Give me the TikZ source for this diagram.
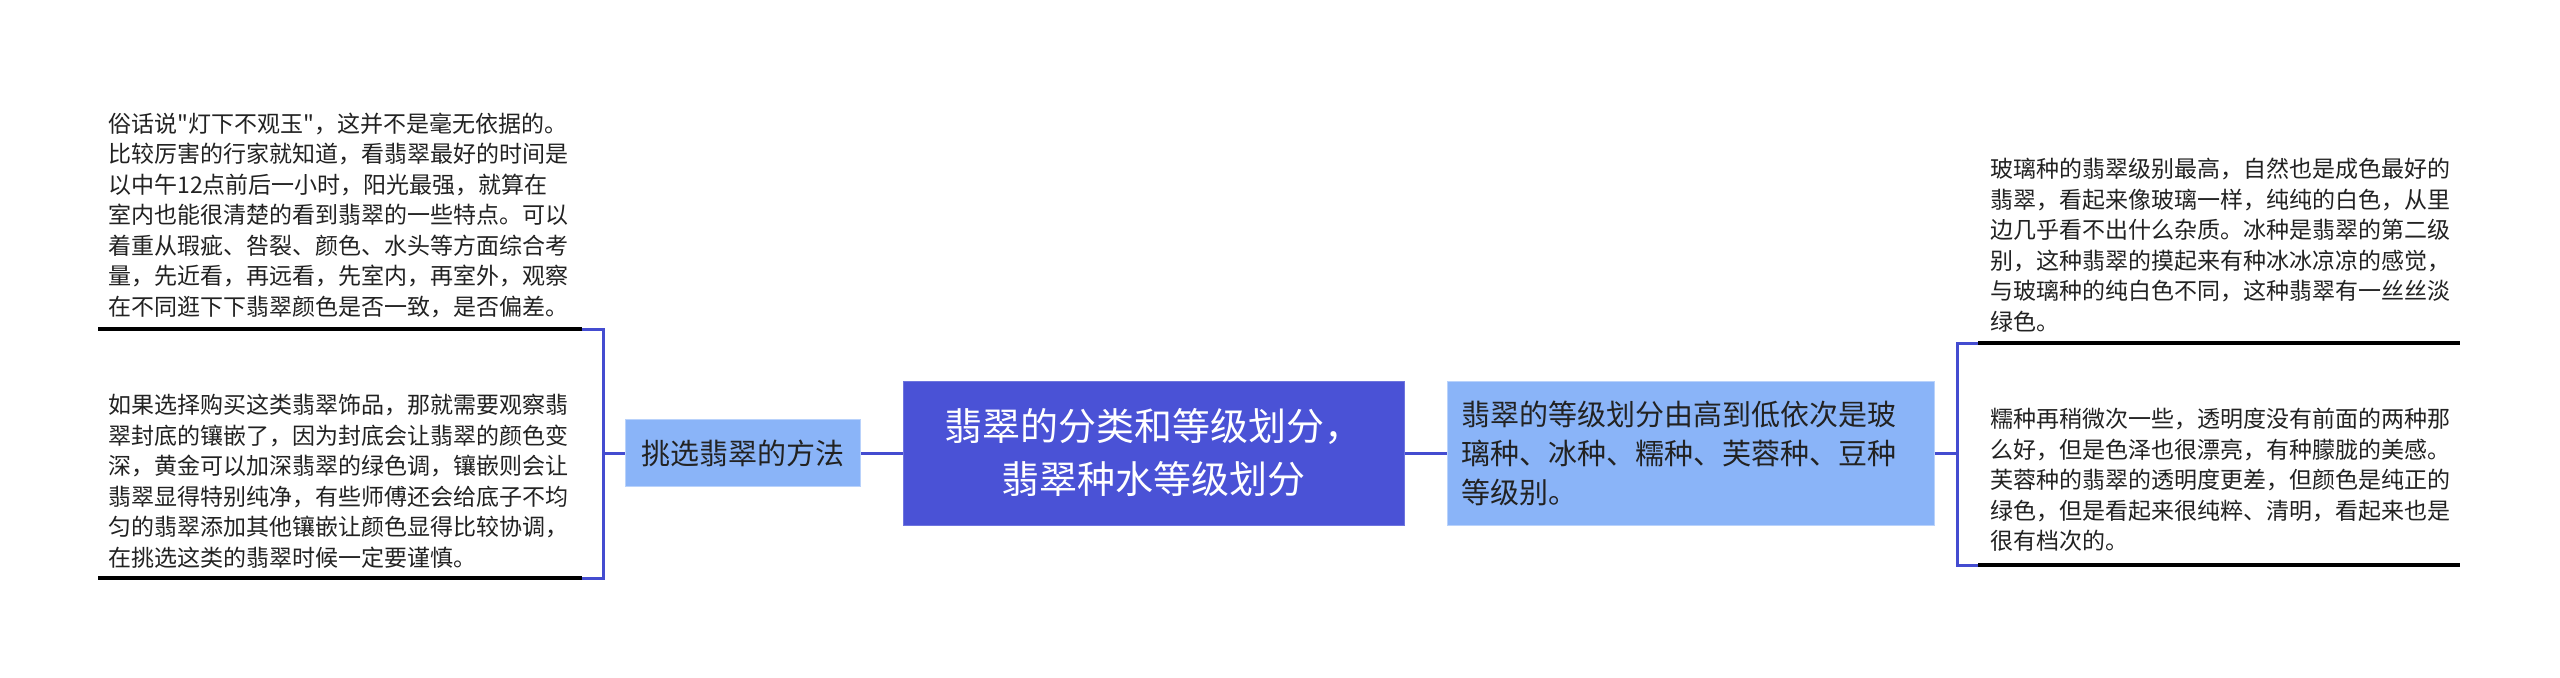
\documentclass[tikz,border=0pt]{standalone}
\usepackage{fontspec}
\setmainfont{Noto Sans CJK SC}
\newfontfamily\plaincjk{Noto Sans CJK SC}
\definecolor{mainblue}{RGB}{74,82,214}
\definecolor{lightblue}{RGB}{138,180,248}
\definecolor{linkblue}{RGB}{68,76,208}
\definecolor{txt}{RGB}{34,34,34}
\begin{document}
\begin{tikzpicture}[x=0.5pt,y=-0.5pt,
  leaf/.style={anchor=west,inner sep=0pt,align=left,text=txt,
    font=\plaincjk\fontsize{11.5pt}{15.25pt}\selectfont},
  link/.style={draw=linkblue,line width=1.5pt},
  uline/.style={draw=black,line width=1.8pt},
  central/.style={fill=mainblue,draw=mainblue!80!white,line width=0.5pt,
    minimum width=250.5pt,minimum height=72pt,inner sep=0pt,align=center,
    text=white,font=\fontsize{19pt}{26.5pt}\selectfont},
  subnode/.style={fill=lightblue,draw=lightblue!60!white,line width=0.5pt,
    inner sep=0pt,text=txt}]
\useasboundingbox (0,0) rectangle (2560,677);
\fill[white] (0,0) rectangle (2560,677);

% main and sub nodes
\node[central] (c) at (1153.5,453) {翡翠的分类和等级划分，\\翡翠种水等级划分};
\node[subnode,minimum width=117.5pt,minimum height=33.5pt,
  font=\fontsize{14.5pt}{17pt}\selectfont] (l) at (742.5,453) {挑选翡翠的方法};
\node[subnode,minimum width=243.5pt,minimum height=72pt,
  text width=229.5pt,inner xsep=7pt,align=left,
  font=\fontsize{14.5pt}{19.5pt}\selectfont] (r) at (1690.5,453)
  {翡翠的等级划分由高到低依次是玻\\璃种、冰种、糯种、芙蓉种、豆种\\等级别。};

% leaves
\node[leaf] (l1) at (108,215) {俗话说"灯下不观玉"，这并不是毫无依据的。\\比较厉害的行家就知道，看翡翠最好的时间是\\以中午12点前后一小时，阳光最强，就算在\\室内也能很清楚的看到翡翠的一些特点。可以\\着重从瑕疵、咎裂、颜色、水头等方面综合考\\量，先近看，再远看，先室内，再室外，观察\\在不同逛下下翡翠颜色是否一致，是否偏差。};
\node[leaf] (l2) at (108,481) {如果选择购买这类翡翠饰品，那就需要观察翡\\翠封底的镶嵌了，因为封底会让翡翠的颜色变\\深，黄金可以加深翡翠的绿色调，镶嵌则会让\\翡翠显得特别纯净，有些师傅还会给底子不均\\匀的翡翠添加其他镶嵌让颜色显得比较协调，\\在挑选这类的翡翠时候一定要谨慎。};
\node[leaf] (r1) at (1990,245) {玻璃种的翡翠级别最高，自然也是成色最好的\\翡翠，看起来像玻璃一样，纯纯的白色，从里\\边几乎看不出什么杂质。冰种是翡翠的第二级\\别，这种翡翠的摸起来有种冰冰凉凉的感觉，\\与玻璃种的纯白色不同，这种翡翠有一丝丝淡\\绿色。};
\node[leaf] (r2) at (1990,480) {糯种再稍微次一些，透明度没有前面的两种那\\么好，但是色泽也很漂亮，有种朦胧的美感。\\芙蓉种的翡翠的透明度更差，但颜色是纯正的\\绿色，但是看起来很纯粹、清明，看起来也是\\很有档次的。};

% coordinates for underlines and brackets
\coordinate (l1a) at (98,329);  \coordinate (l1b) at (582,329);
\coordinate (l2a) at (98,578);  \coordinate (l2b) at (582,578);
\coordinate (lbt) at (603,329); \coordinate (lbb) at (603,578);
\coordinate (r1a) at (1978,343); \coordinate (r1b) at (2460,343);
\coordinate (r2a) at (1978,565); \coordinate (r2b) at (2460,565);
\coordinate (rbt) at (1957,343); \coordinate (rbb) at (1957,565);

% underlines
\draw[uline] (l1a) -- (l1b);
\draw[uline] (l2a) -- (l2b);
\draw[uline] (r1a) -- (r1b);
\draw[uline] (r2a) -- (r2b);

% connectors
\draw[link] (c.west) -- (l.east);
\draw[link] (c.east) -- (r.west);
\draw[link] (l.west) -- (lbt |- l.west);
\draw[link] (l1b) -- (lbt) -- (lbb) -- (l2b);
\draw[link] (r.east) -- (rbt |- r.east);
\draw[link] (r1a) -- (rbt) -- (rbb) -- (r2a);
\end{tikzpicture}
\end{document}
